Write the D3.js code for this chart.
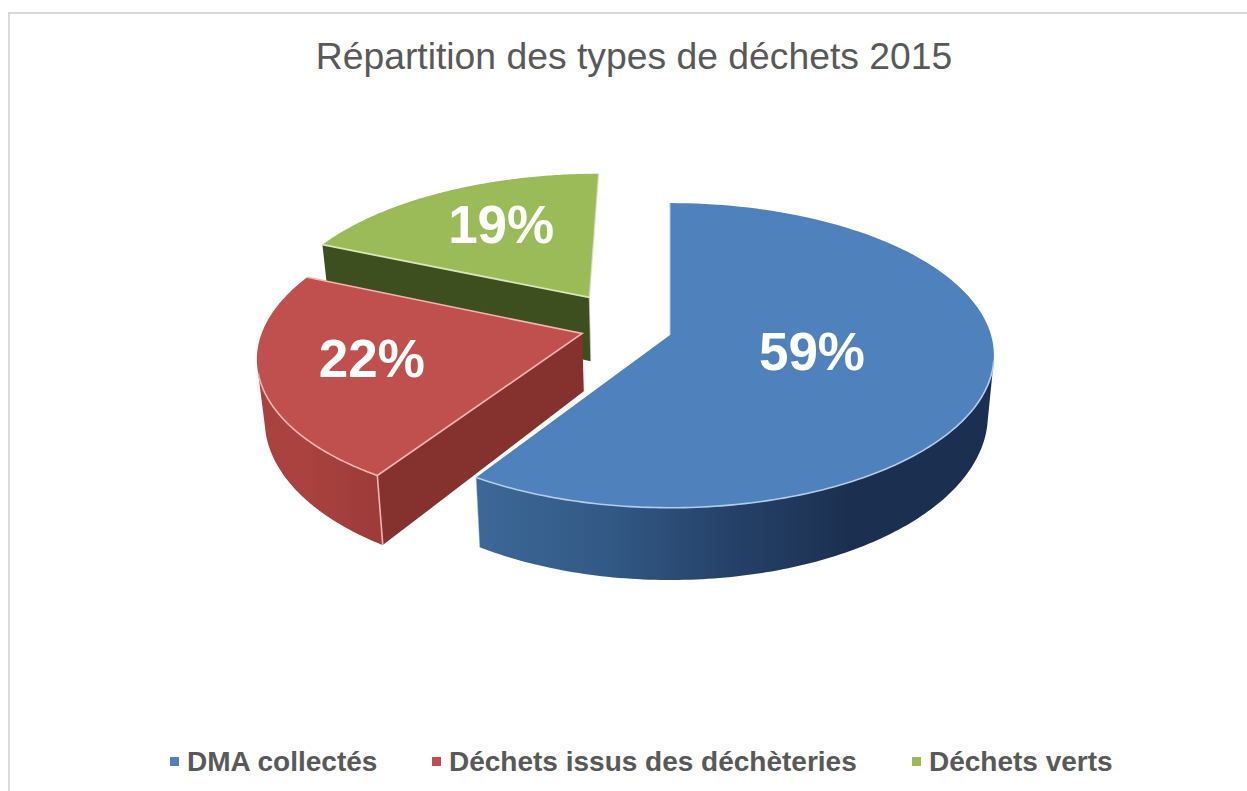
<!DOCTYPE html>
<html><head><meta charset="utf-8">
<script src="https://cdn.jsdelivr.net/npm/d3@7/dist/d3.min.js"></script>
<style>html,body{margin:0;padding:0;background:#fff;overflow:hidden}svg{display:block}text{font-family:"Liberation Sans",Arial,sans-serif}</style>
</head><body><svg id="c" width="1247" height="791"></svg>
<script>
const title = "Répartition des types de déchets 2015";
const categories = ["DMA collectés", "Déchets issus des déchèteries", "Déchets verts"];
const values = [59, 22.49, 18.51];
const labels = ["59%", "22%", "19%"];
const topColors = ["#4f81bd", "#c0504d", "#9bbb59"];
const rimColors = ["#b5cdea", "#f2b5b2", "#d9e6bd"];
const cutColors = ["#1b3050", "#85312e", "#3e4f1f"];
const wallStops = [["#3d6897", "#335a87", "#26426a", "#1b3050"], ["#a8413e", "#ab423f", "#a33f3c", "#9c3b38"], ["#3e4f1f", "#3e4f1f", "#3e4f1f", "#3e4f1f"]];
// explosion of every slice on the pie's own plane (radius = 1)
const explodeU = [0, -0.274, -0.26];
const explodeV = [0, -0.01, -0.26];
// extra drop of the lower face at the slice's tip
const extraDepth = [0, 0, 9];
// label anchors on the plane
const labelU = [0.436, -0.91, -0.584];
const labelV = [0.105, 0.15, -0.824];
// visible outer wall of each slice, degrees (null: hidden)
const wallFrom = [100, 212.4, null];
const wallTo = [212.4, 255, null];

const svg = d3.select("#c");
const defs = svg.append("defs");

// perspective of the top and of the bottom plane
const P = {cx: 670, c: -0.134};
const topPlane = {k: 321, a: 104.7, b: 335};
const botPlane = {k: 315, a: 109.4, b: 392.9};
const project = (pl, u, v) => {
  const w = 1 + P.c * v;
  return [P.cx + pl.k * u / w, (pl.a * v + pl.b) / w];
};
const arcs = d3.pie().sort(null).value(d => d)(values);
const rad = Math.PI / 180;
const rimPts = (pl, i, a0, a1) => d3.range(0, 121).map(n => {
  const t = a0 + (a1 - a0) * n / 120;
  const p = project(pl, explodeU[i] + Math.sin(t), explodeV[i] - Math.cos(t));
  return pl === botPlane ? [p[0], p[1] + extraDepth[i]] : p;
});
const line = d3.line();
const apex = (pl, i) => {
  const p = project(pl, explodeU[i], explodeV[i]);
  return pl === botPlane ? [p[0], p[1] + extraDepth[i]] : p;
};

const order = [2, 1, 0];

svg.append("rect").attr("x", 9).attr("y", 13).attr("width", 1260).attr("height", 820)
  .attr("fill", "#fff").attr("stroke", "#d9d9d9").attr("stroke-width", 2);

order.forEach(i => {
  const d = arcs[i];
  const g = svg.append("g");
  const aT = apex(topPlane, i), aB = apex(botPlane, i);
  const startT = rimPts(topPlane, i, d.startAngle, d.startAngle)[0];
  const startB = rimPts(botPlane, i, d.startAngle, d.startAngle)[0];
  const endT = rimPts(topPlane, i, d.endAngle, d.endAngle)[0];
  const endB = rimPts(botPlane, i, d.endAngle, d.endAngle)[0];
  // cut faces
  if (i > 0) {
    g.append("path").attr("d", line([aT, startT, startB, aB]) + "Z").attr("fill", cutColors[i]);
  }
  // outer wall
  if (wallFrom[i] !== null) {
    const a0 = wallFrom[i] * rad, a1 = wallTo[i] * rad;
    const tp = rimPts(topPlane, i, a0, a1), bp = rimPts(botPlane, i, a0, a1);
    const xs = tp.concat(bp).map(p => p[0]);
    const id = "wall" + i;
    const lg = defs.append("linearGradient").attr("id", id).attr("gradientUnits", "userSpaceOnUse")
      .attr("x1", d3.min(xs)).attr("x2", i === 0 ? 850 : d3.max(xs)).attr("y1", 0).attr("y2", 0);
    const stops = wallStops[i];
    stops.forEach((c, n) => lg.append("stop").attr("offset", n / (stops.length - 1)).attr("stop-color", c));
    g.append("path").attr("d", line(tp.concat(bp.slice().reverse())) + "Z").attr("fill", `url(#${id})`);
  }
  // top face
  const arcPts = rimPts(topPlane, i, d.startAngle, d.endAngle);
  g.append("path").attr("d", line([aT].concat(arcPts)) + "Z").attr("fill", topColors[i]);
  // light rim lines
  const rim = (pts, w, o) => g.append("path").attr("d", line(pts)).attr("fill", "none")
    .attr("stroke", rimColors[i]).attr("stroke-width", w).attr("stroke-opacity", o);
  if (i === 0) {
    rim(rimPts(topPlane, i, wallFrom[i] * rad, d.endAngle), 1.6, 1);
    rim([aT, startT], 1.4, .7);
    rim([endT, endB], 1, .5);
  }
  if (i === 1) {
    rim(rimPts(topPlane, i, d.startAngle, wallTo[i] * rad), 1.6, 1);
    rim([endT, aT, startT], 1.6, 1);
    rim([startT, startB], 1.6, 1);
  }
  if (i === 2) {
    rim([endT, aT], 1.4, .7);
    rim([aT, aB], 1.2, .6);
    rim([startT, aT], 1.8, 1);
  }
});

// value labels
labels.forEach((t, i) => {
  const p = project(topPlane, labelU[i], labelV[i]);
  svg.append("text").attr("x", p[0]).attr("y", p[1] + 19).attr("text-anchor", "middle")
    .attr("font-size", 53).attr("font-weight", "bold").attr("fill", "#fff").text(t);
});

// title
svg.append("text").attr("x", 634).attr("y", 69).attr("text-anchor", "middle")
  .attr("font-size", 37.3).attr("fill", "#595959").text(title);

// legend
const legendX = d3.scaleOrdinal().domain(categories).range([170, 432, 912]);
categories.forEach((c, i) => {
  svg.append("rect").attr("x", legendX(c)).attr("y", 757).attr("width", 9).attr("height", 9).attr("fill", topColors[i]);
  svg.append("text").attr("x", legendX(c) + 17).attr("y", 771).attr("font-size", 28).attr("font-weight", "bold")
    .attr("fill", "#595959").text(c);
});
</script></body></html>
